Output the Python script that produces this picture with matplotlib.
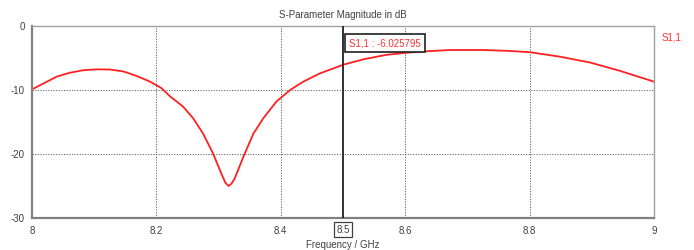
import matplotlib
matplotlib.use("Agg")
import matplotlib.pyplot as plt

freq = [8.000, 8.018, 8.040, 8.061, 8.083, 8.104, 8.125, 8.147, 8.168, 8.190,
        8.208, 8.222, 8.243, 8.259, 8.275, 8.291, 8.305, 8.311, 8.316, 8.321,
        8.326, 8.340, 8.356, 8.372, 8.393, 8.415, 8.436, 8.463, 8.501, 8.533,
        8.570, 8.600, 8.624, 8.672, 8.726, 8.768, 8.801, 8.849, 8.897, 8.945, 9.000]
s11_db = [-9.9, -9.0, -7.9, -7.3, -6.9, -6.77, -6.8, -7.1, -7.8, -8.7,
          -9.7, -11.0, -12.6, -14.4, -16.8, -19.9, -23.2, -24.5, -25.0, -24.6,
          -23.8, -20.4, -16.8, -14.4, -11.8, -10.0, -8.7, -7.4, -6.03, -5.2,
          -4.5, -4.2, -4.0, -3.75, -3.75, -3.9, -4.1, -4.8, -5.7, -7.0, -8.7]

xticks = [8.0, 8.2, 8.4, 8.6, 8.8, 9.0]
xtick_labels = ["8", "8.2", "8.4", "8.6", "8.8", "9"]
yticks = [0, -10, -20, -30]
ytick_labels = ["0", "-10", "-20", "-30"]
marker_x = 8.5
marker_label = "S1,1 : -6.025795"
series_name = "S1,1"

font = "Liberation Sans"
fs = 7

fig = plt.figure(figsize=(6.94, 2.50), dpi=100)
ax = fig.add_axes([0.0461, 0.128, 0.8963, 0.768])

ax.plot(freq, s11_db, color="#ff2020", lw=1.3, solid_joinstyle="round")
ax.set_xlim(8.0, 9.0)
ax.set_ylim(-30, 0)
ax.set_xticks(xticks)
ax.set_xticklabels(xtick_labels, fontsize=fs, color="#404040", family=font)
ax.set_yticks(yticks)
ax.set_yticklabels(ytick_labels, fontsize=fs, color="#404040", family=font)
ax.tick_params(axis="x", length=0, pad=6)
ax.tick_params(axis="y", length=0, pad=5)
ax.grid(True, color="#606060", ls=(0, (1.2, 1.5)), lw=0.7)
for s in ax.spines.values():
    s.set_color("#a0a0a0")
    s.set_linewidth(1.0)
ax.spines["left"].set_linewidth(1.6)
ax.spines["bottom"].set_linewidth(1.6)
ax.spines["left"].set_color("#808080")
ax.spines["bottom"].set_color("#808080")

ax.axvline(marker_x, color="#202020", lw=1.3, zorder=5)
ax.text(marker_x + 0.01, -2.7, marker_label, fontsize=fs, color="#ff3030", family=font,
        va="center", ha="left", zorder=6,
        bbox=dict(boxstyle="square,pad=0.4", fc="white", ec="#202020", lw=1.2))
ax.text(marker_x, -31.8, "8.5", fontsize=fs, color="#404040", family=font,
        va="center", ha="center",
        bbox=dict(boxstyle="square,pad=0.22", fc="white", ec="#404040", lw=0.9))

ax.set_title("S-Parameter Magnitude in dB", fontsize=fs, color="#404040", family=font, pad=6)
fig.text(343 / 694, 1 - 245 / 250, "Frequency / GHz", fontsize=fs, color="#404040",
         family=font, ha="center", va="center")
fig.text(672 / 694, 1 - 37 / 250, series_name, fontsize=fs, color="#ff3030",
         family=font, ha="center", va="center")

fig.savefig("out.png", dpi=100)
